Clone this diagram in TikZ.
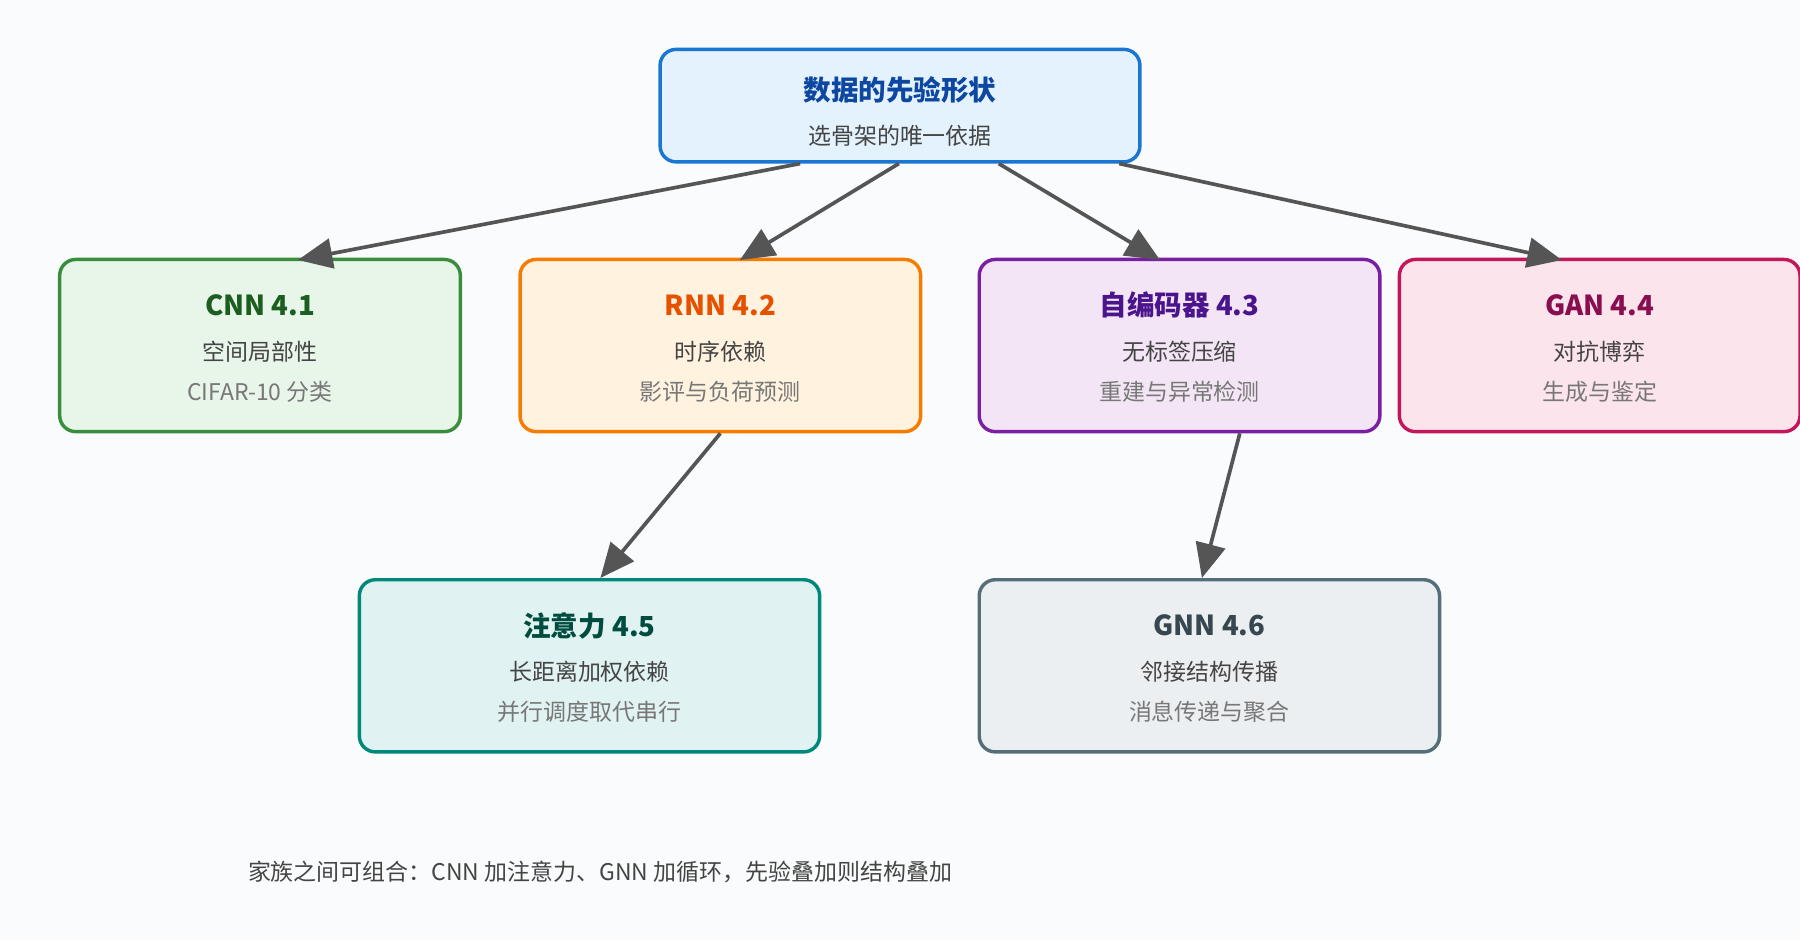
\documentclass[tikz,border=0pt]{standalone}
\usepackage{fontspec}
\setmainfont{Noto Sans CJK SC}
\usetikzlibrary{arrows.meta,calc}
\definecolor{bg}{HTML}{FAFBFC}
\definecolor{arr}{HTML}{555555}
\definecolor{tA}{HTML}{444444}
\definecolor{tB}{HTML}{777777}
\definecolor{topb}{HTML}{1976D2}
\definecolor{topf}{HTML}{E3F2FD}
\definecolor{topt}{HTML}{0D47A1}
\tikzset{
 box/.style 2 args={draw=#1,fill=#2,line width=1.5pt,rounded corners=7pt,inner sep=0pt},
 ttl/.style={font=\bfseries\fontsize{12}{14}\selectfont,text=#1},
 l1/.style={font=\fontsize{10}{12}\selectfont,text=tA},
 l2/.style={font=\fontsize{10}{12}\selectfont,text=tB},
 con/.style={draw=arr,line width=1.6pt,-{Triangle[length=15pt,width=13pt]}}
}
\begin{document}
\begin{tikzpicture}[x=0.5pt,y=-0.5pt]
\fill[bg] (0,0) rectangle (1568,819);
\useasboundingbox (0,0) rectangle (1568,819);
\node[box={topb}{topf},minimum width=209pt,minimum height=49pt] (top) at (784,92) {};
\node[ttl=topt] at (784,78) {数据的先验形状};
\node[l1] at (784,118) {选骨架的唯一依据};
\foreach \n/\x/\bc/\fc/\tc/\a/\b/\c in {
 cnn/226.5/388E3C/E8F5E9/1B5E20/{CNN 4.1}/空间局部性/{CIFAR-10 分类},
 rnn/627.5/F57C00/FFF3E0/E65100/{RNN 4.2}/时序依赖/影评与负荷预测,
 ae/1027.5/7B1FA2/F3E5F5/4A148C/{自编码器 4.3}/无标签压缩/重建与异常检测,
 gan/1393.5/C2185B/FCE4EC/880E4F/{GAN 4.4}/对抗博弈/生成与鉴定}{
 \definecolor{bc}{HTML}{\bc}\definecolor{fc}{HTML}{\fc}\definecolor{tc}{HTML}{\tc}
 \node[box={bc}{fc},minimum width=174.5pt,minimum height=75pt] (\n) at (\x,301) {};
 \node[ttl=tc] at (\x,266) {\a};
 \node[l1] at (\x,306) {\b};
 \node[l2] at (\x,341) {\c};
}
\foreach \n/\x/\bc/\fc/\tc/\a/\b/\c in {
 att/513.5/00897B/E0F2F1/004D40/{注意力 4.5}/长距离加权依赖/并行调度取代串行,
 gnn/1053.5/546E7A/ECEFF1/37474F/{GNN 4.6}/邻接结构传播/消息传递与聚合}{
 \definecolor{bc}{HTML}{\bc}\definecolor{fc}{HTML}{\fc}\definecolor{tc}{HTML}{\tc}
 \node[box={bc}{fc},minimum width=200.5pt,minimum height=75pt] (\n) at (\x,580) {};
 \node[ttl=tc] at (\x,545) {\a};
 \node[l1] at (\x,585) {\b};
 \node[l2] at (\x,620) {\c};
}
\draw[con] ($(top.south)+(-87,0)$) -- ($(cnn.north)+(33,2)$);
\draw[con] ($(top.south)+(-1,0)$) -- ($(rnn.north)+(17,2)$);
\draw[con] ($(top.south)+(86,0)$) -- ($(ae.north)+(-17,2)$);
\draw[con] ($(top.south)+(191,0)$) -- ($(gan.north)+(-33,2)$);
\draw[con] (rnn.south) -- ($(att.north)+(9.5,0)$);
\draw[con] ($(ae.south)+(52.5,0)$) -- ($(gnn.north)+(-6.5,0)$);
\node[l1,anchor=west] (foot) at (209,760) {家族之间可组合：CNN 加注意力、GNN 加循环，先验叠加则结构叠加};
\end{tikzpicture}
\end{document}
